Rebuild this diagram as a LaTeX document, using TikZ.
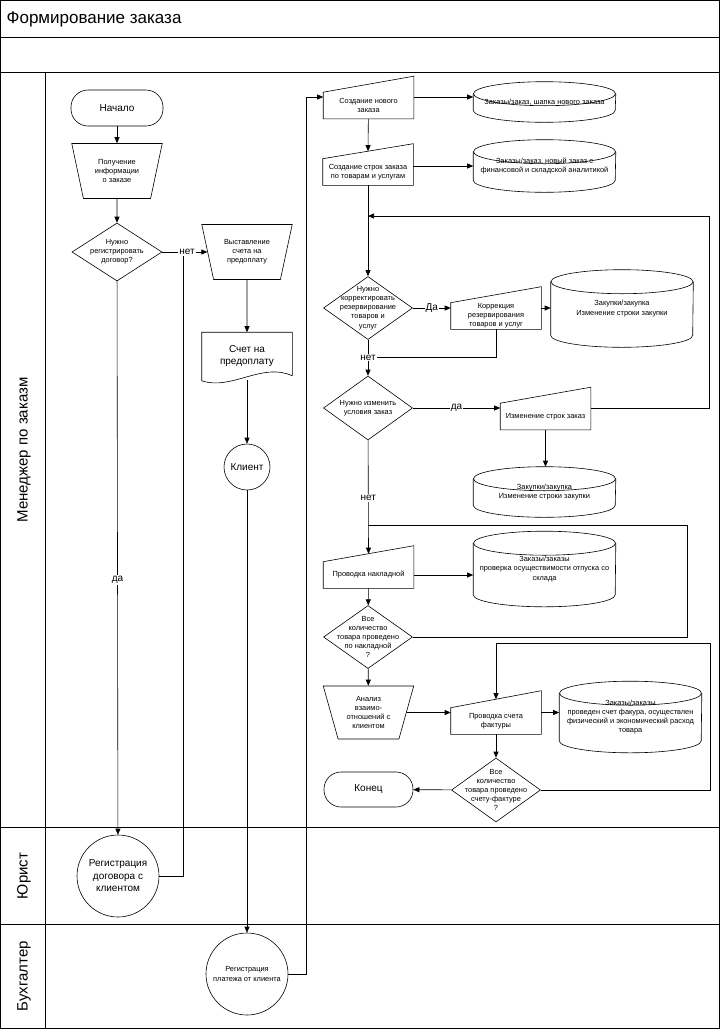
\documentclass[tikz,border=0pt]{standalone}
\usepackage{fontspec}
\setmainfont{Liberation Sans}
\usetikzlibrary{
    shapes.geometric,
    arrows.meta,
    positioning,
    calc
}
\newcommand{\smallfont}{\fontsize{7.4}{9.2}\selectfont}
\newcommand{\midfont}{\fontsize{10}{12.5}\selectfont}

\begin{document}
\begin{tikzpicture}[
        x=1pt, y=-1pt,
        line width=0.6pt,
        term/.style={draw, rounded corners=17pt, minimum width=#1, minimum height=36, font=\midfont},
        manop/.style={draw, trapezium, trapezium stretches=true, shape border rotate=180, trapezium angle=72, minimum width=91, minimum height=#1, inner sep=0pt, font=\smallfont, align=center},
        decision/.style={draw, diamond, minimum width=89, minimum height=63, inner sep=0pt, label={[font=\smallfont, align=center]center:#1}},
        manin/.style={minimum width=90, minimum height=26, inner sep=0pt, font=\smallfont, align=center,
            append after command={\pgfextra{
                \draw (\tikzlastnode.north west) -- ([yshift=#1]\tikzlastnode.north east) -- (\tikzlastnode.south east) -- (\tikzlastnode.south west) -- cycle;
                \coordinate (\tikzlastnode-t) at ([yshift=#1/2]\tikzlastnode.north);}}},
        dbry/.store in=\dbry, dbry=12pt,
        db/.style={minimum width=142, minimum height=#1, inner sep=0pt, font=\smallfont, align=center,
            append after command={\pgfextra{
                \draw ([yshift=-\dbry]\tikzlastnode.north west) -- ([yshift=\dbry]\tikzlastnode.south west)
                    arc[start angle=180, end angle=360, x radius=71pt, y radius=\dbry] -- ([yshift=-\dbry]\tikzlastnode.north east);
                \draw ([yshift=-\dbry]\tikzlastnode.north) ellipse [x radius=71pt, y radius=\dbry];}}},
        doc/.style={minimum width=90, minimum height=47, inner sep=0pt, font=\midfont, align=center,
            append after command={\pgfextra{
                \draw ([yshift=4pt]\tikzlastnode.south east) -- (\tikzlastnode.north east) -- (\tikzlastnode.north west) -- ([yshift=-1pt]\tikzlastnode.south west)
                    .. controls +(30pt,-10pt) and +(-30pt,14pt) .. ([yshift=4pt]\tikzlastnode.south east);}}},
        circ/.style={draw, circle, minimum size=#1, inner sep=0pt, align=center},
        lbl/.style={fill=white, inner sep=1pt, font=\midfont},
        lane/.style={font=\fontsize{15}{18}\selectfont, rotate=90},
        arrow/.style={-{Triangle[length=6pt, width=5pt]}}
    ]
        \useasboundingbox (0,0) rectangle (720,1029);

        % Frame and lanes
        \draw[line width=1pt] (0.5,0.5) rectangle (719,1028);
        \draw[line width=1pt] (0.5,37) -- (719,37);
        \draw[line width=1pt] (0.5,72) -- (719,72);
        \draw[line width=1pt] (0.5,827) -- (719,827);
        \draw[line width=1pt] (0.5,924) -- (719,924);
        \draw[line width=1pt] (45,72) -- (45,1028);
        \node[anchor=west, font=\fontsize{17}{20}\selectfont] (title) at (3,19) {Формирование заказа};
        \node[lane] (lmgr) at (24,450) {Менеджер по заказм};
        \node[lane] (llaw) at (24,876) {Юрист};
        \node[lane] (lacc) at (24,976) {Бухгалтер};

        % Left column
        \node[term=92] (start) at (117,108) {Начало};
        \node[manop=55] (get) at (117,171) {Получение\\информации\\о заказе};
        \node[decision={Нужно\\регистрировать\\договор?}, minimum width=90, minimum height=58] (reg) at (117,252) {};

        % Prepayment
        \node[manop=55] (prepay) at (247,252) {Выставление\\счета на\\предоплату};
        \node[doc] (bill) at (247,356) {Счет на\\предоплату};
        \node[circ=46, font=\midfont] (client) at (247,467) {Клиент};

        % Lawyer and accountant
        \node[circ=82, font=\midfont] (contract) at (118,876) {Регистрация\\договора с\\клиентом};
        \node[circ=82, font=\smallfont] (payment) at (247,974) {Регистрация\\платежа от клиента};

        % Order creation
        \node[manin=16pt] (new) at (368.5,105.5) {Создание нового\\заказа};
        \node[dbry=6pt, db=40] (db1) at (544.5,102) {Заказы/заказ, шапка нового заказа};
        \node[manin=15pt] (lines) at (368,172) {Создание строк заказа\\по товарам и услугам};
        \node[db=52] (db2) at (544.5,166) {Заказы/заказ, новый заказ с\\финансовой и складской аналитикой};

        % Reservation
        \node[decision={Нужно\\корректировать\\резервирование\\товаров и\\услуг}] (corrdec) at (368,308) {};
        \node[manin=16pt] (corr) at (496,316) {Коррекция\\резервирования\\товаров и услуг};
        \node[db=77] (db3) at (622,308.5) {Закупки/закупка\\Изменение строки закупки};

        % Order change
        \node[decision={Нужно изменить\\условия заказ}, minimum height=64] (chgdec) at (368,408) {};
        \node[manin=16pt] (chg) at (545.5,416.5) {Изменение строк заказ};
        \node[db=50] (db4) at (544.5,492) {Закупки/закупка\\Изменение строки закупки};

        % Waybill
        \node[manin=16pt] (post) at (368.5,575) {Проводка накладной};
        \node[db=75] (db5) at (544.5,569) {Заказы/заказы\\проверка осуществимости отпуска со\\склада};
        \node[decision={Все\\количество\\товара проведено\\по накладной\\?}] (qty1) at (368,637) {};
        \node[manop=53] (anal) at (368.5,712.5) {Анализ\\взаимо-\\отношений с\\клиентом};

        % Invoice
        \node[manin=17pt] (inv) at (496,721) {Проводка счета\\фактуры};
        \node[db=71] (db6) at (630.5,717) {Заказы/заказы\\проведен счет факура, осуществлен\\физический и экономический расход\\товара};
        \node[decision={Все\\количество\\товара проведено\\счету-фактуре\\?}, minimum height=64] (qty2) at (496,790) {};
        \node[term=89, minimum height=35] (endn) at (368.5,789.5) {Конец};

        % Loop points
        \coordinate (bus) at (306,97);
        \coordinate (j1) at (368,216);
        \coordinate (loopR) at (709,216);
        \coordinate (j2) at (368,525);
        \coordinate (loopR2) at (687,525);
        \coordinate (loopR3) at (710,643);

        % Arrows
        \foreach \i/\j in {start/get, get/reg, prepay/bill, bill/client, client/payment, lines/corrdec, post/qty1, qty1/anal, inv/qty2, qty2/endn} {
            \draw[arrow] (\i) -- (\j);
        }
        \draw[arrow] (reg) -- node[lbl, pos=0.55] (no1) {нет} (prepay);
        \draw[arrow] (reg) -- node[lbl, pos=0.54] {да} (contract);
        \draw (contract.east) -| ([xshift=-4pt]no1.south);
        \draw[arrow] (payment.east) -| (bus) -- (bus -| new.west);
        \draw[arrow] (new.east |- bus) -- (db1.west |- bus);
        \draw[arrow] (new) -- (lines-t);
        \draw[arrow] (lines.east |- db2) -- (db2);

        \draw[arrow] (corrdec) -- node[lbl] {Да} (corrdec -| corr.west);
        \draw[arrow] (corr.east |- corrdec) -- (db3.west |- corrdec);
        \draw[arrow] (corrdec) -- node[lbl] (no2) {нет} (chgdec);
        \draw (corr.south) |- (no2.east);

        \draw[arrow] (chgdec) -- node[lbl] {да} (chgdec -| chg.west);
        \draw[arrow] (chgdec -| chg.east) -| (loopR) -- (j1);
        \draw[arrow] (chg.south) -- (chg.south |- db4.north);
        \draw[arrow] (chgdec) -- node[lbl, pos=0.51] {нет} (post-t);

        \draw (qty1.east) -| (loopR2) -- (j2);
        \draw[arrow] (post) -- (post -| db5.west);
        \draw[arrow] (anal) -- (anal -| inv.west);
        \draw[arrow] (inv.east |- anal) -- (db6.west |- anal);
        \draw[arrow] (qty2.east) -| (loopR3) -| (inv-t);

    \end{tikzpicture}
\end{document}
